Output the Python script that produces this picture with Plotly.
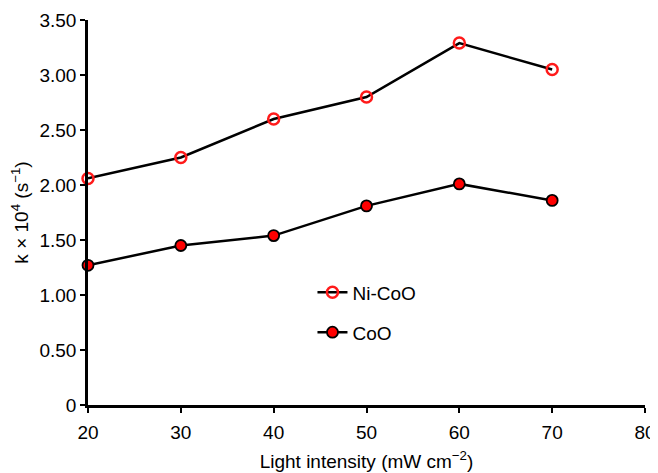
import plotly.graph_objects as go

light = [20, 30, 40, 50, 60, 70]
ni_coo = [2.06, 2.25, 2.60, 2.80, 3.29, 3.05]
coo = [1.27, 1.45, 1.54, 1.81, 2.01, 1.86]
y_tickvals = [0, 0.5, 1.0, 1.5, 2.0, 2.5, 3.0, 3.5]
y_ticktext = ["0", "0.50", "1.00", "1.50", "2.00", "2.50", "3.00", "3.50"]
x_tickvals = [20, 30, 40, 50, 60, 70, 80]

FONT = "Liberation Sans, Arial, sans-serif"
FS = 19

fig = go.Figure()
fig.add_trace(go.Scatter(
    x=light, y=ni_coo, name="Ni-CoO", mode="lines+markers",
    line=dict(color="black", width=2.5),
    marker=dict(symbol="circle-open", size=11, color="#ff1a1a", line=dict(width=2.5, color="#ff1a1a")),
    cliponaxis=False, legend="legend", showlegend=True,
))
fig.add_trace(go.Scatter(
    x=light, y=coo, name="CoO", mode="lines+markers",
    line=dict(color="black", width=2.5),
    marker=dict(symbol="circle", size=11, color="#ff0000", line=dict(width=1.8, color="black")),
    cliponaxis=False, legend="legend2", showlegend=True,
))

fig.update_layout(
    width=650, height=465,
    margin=dict(l=80, r=13, t=12, b=68, autoexpand=False),
    paper_bgcolor="white", plot_bgcolor="white",
    showlegend=True,
    font=dict(family=FONT, size=FS, color="black"),
    legend=dict(x=0.403, y=0.342, xanchor="left", yanchor="top", bgcolor="rgba(0,0,0,0)",
                font=dict(size=FS), itemwidth=30, visible=True),
    legend2=dict(x=0.403, y=0.238, xanchor="left", yanchor="top", bgcolor="rgba(0,0,0,0)",
                 font=dict(size=FS), itemwidth=30, visible=True),
    xaxis=dict(
        range=[20, 80], tickvals=x_tickvals, showgrid=False, zeroline=False,
        showline=True, linecolor="black", linewidth=2.5, automargin=False,
        ticks="outside", ticklen=5, tickwidth=2, tickcolor="black",
        tickfont=dict(size=FS, family=FONT), ticklabelstandoff=3,
        title=dict(text="Light intensity (mW cm<sup>\u22122</sup>)", font=dict(size=FS, family=FONT), standoff=14),
    ),
    yaxis=dict(
        range=[0, 3.5], tickvals=y_tickvals, ticktext=y_ticktext, showgrid=False, zeroline=False,
        showline=True, linecolor="black", linewidth=2.5, automargin=False,
        ticks="outside", ticklen=5, tickwidth=2, tickcolor="black",
        tickfont=dict(size=FS, family=FONT),
        title=dict(text="k \u00d7 10<sup>4</sup> (s<sup>\u22121</sup>)", font=dict(size=FS, family=FONT), standoff=12),
    ),
)

fig.write_html("out.html")
